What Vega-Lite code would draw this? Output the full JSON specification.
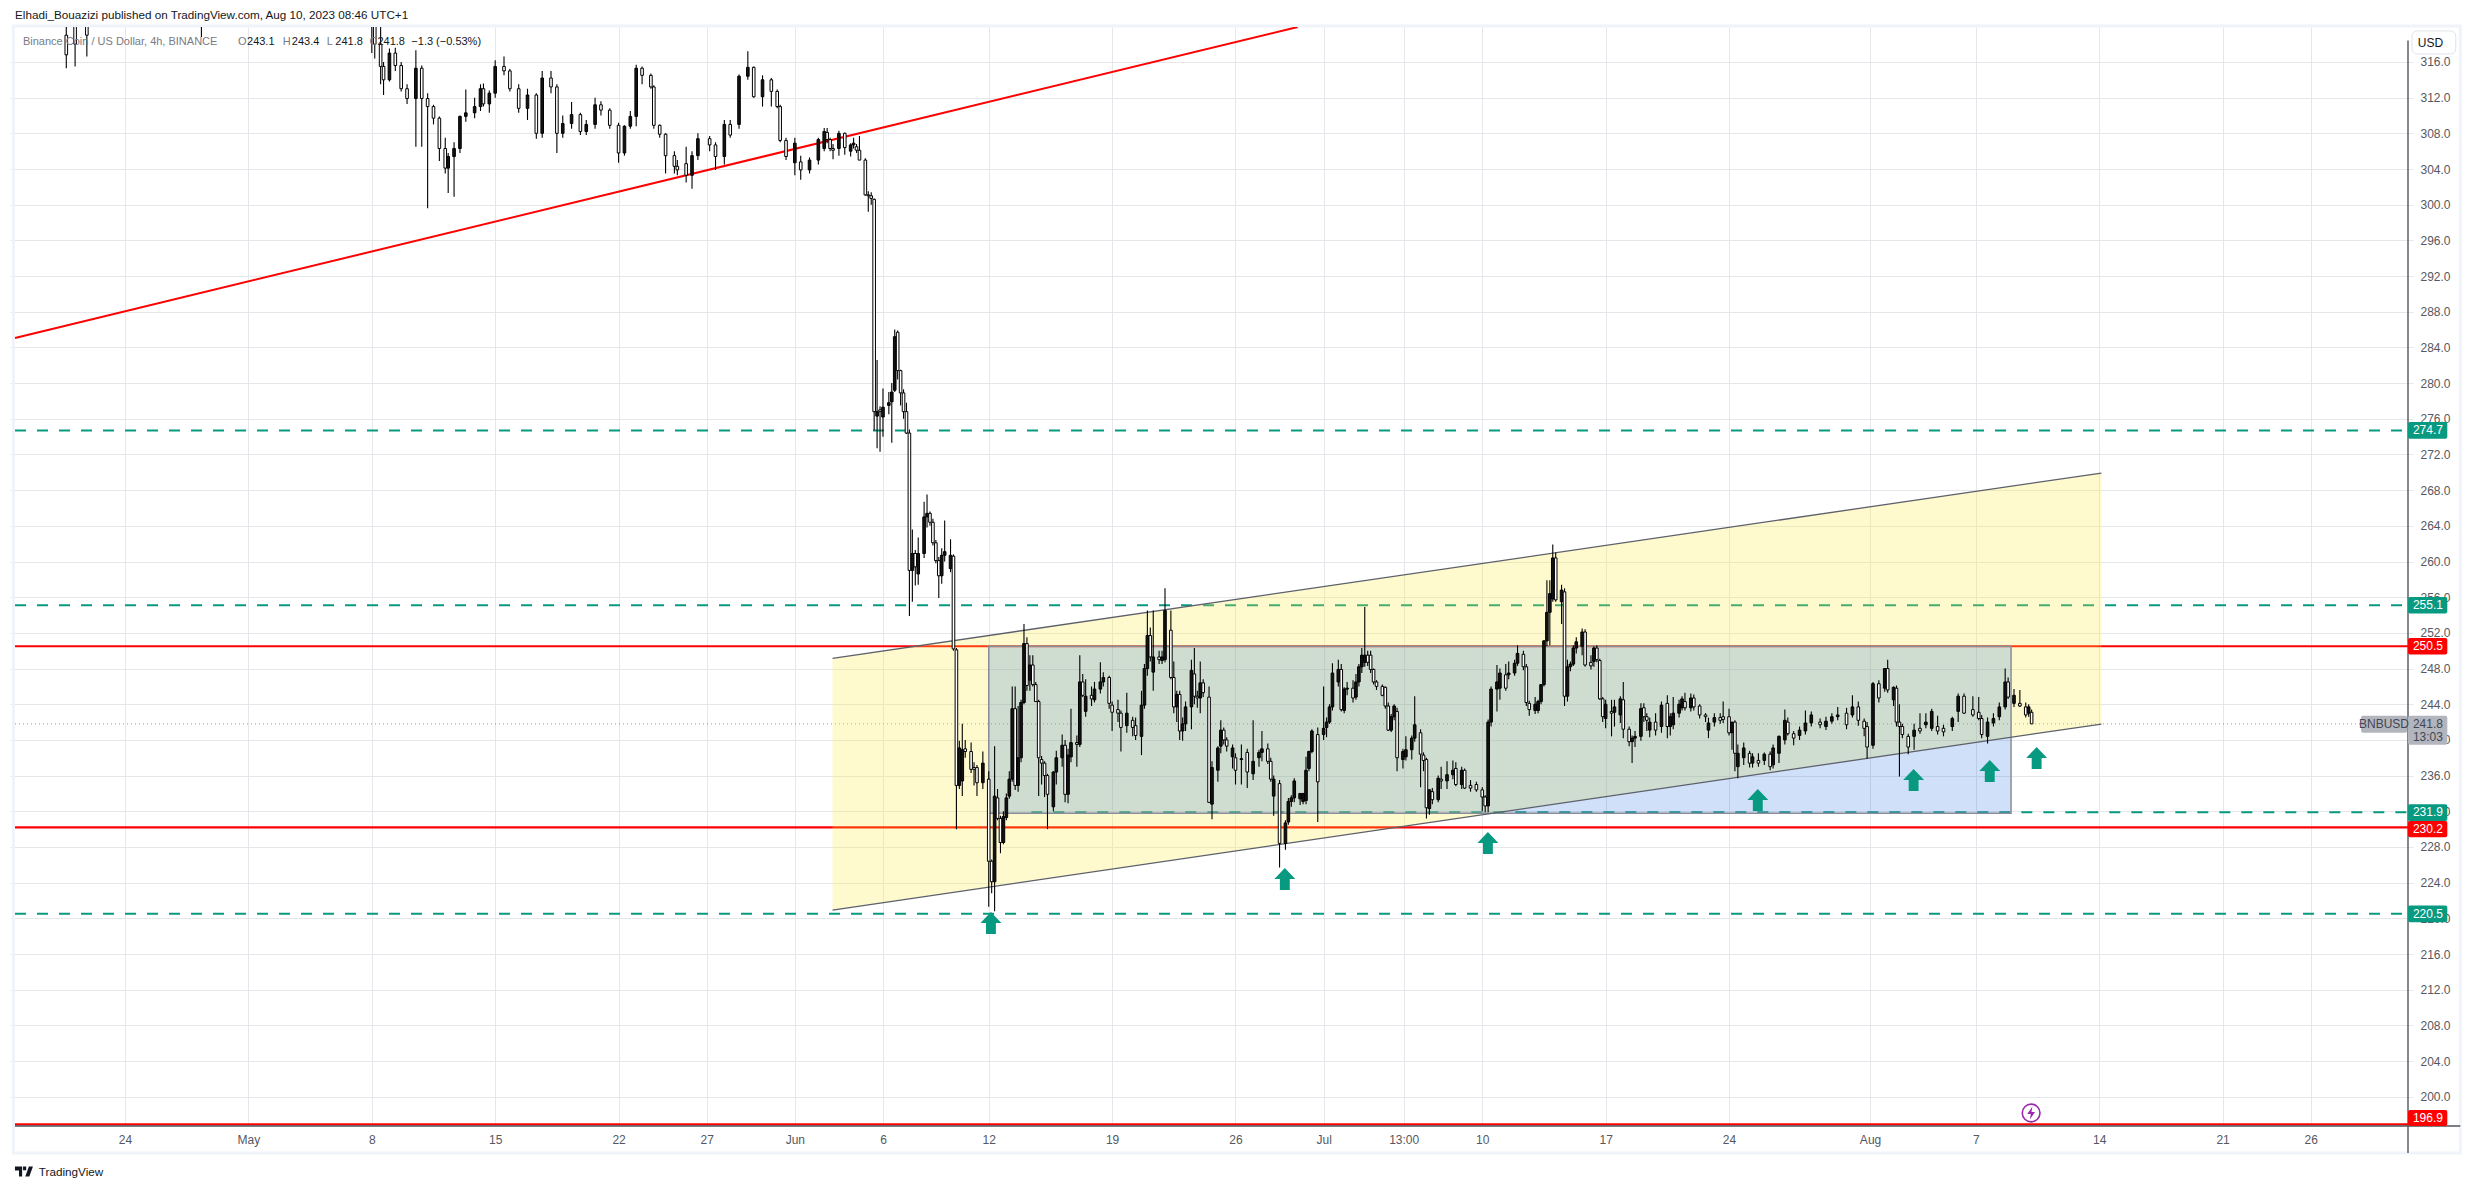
{
"$schema":"https://vega.github.io/schema/vega-lite/v6.json",
"width":2403,"height":1099,
"autosize":{"type":"none"},
"padding":{"left":10,"top":27,"right":62,"bottom":63},
"background":"#ffffff",
"config":{"view":{"stroke":null}},
"encoding":{
 "x":{"field":"t","type":"temporal","title":null,
  "scale":{"type":"utc","domain":[1681755004800,1693484928000]},
  "axis":{"values":[1682294400000,1682899200000,1683504000000,1684108800000,1684713600000,1685145600000,1685577600000,1686009600000,1686528000000,1687132800000,1687737600000,1688169600000,1688562000000,1688947200000,1689552000000,1690156800000,1690848000000,1691366400000,1691971200000,1692576000000,1693008000000],
   "labelExpr":"utchours(datum.value)==13?'13:00':utcdate(datum.value)==1?utcFormat(datum.value,'%b'):utcdate(datum.value)",
   "title":null,"domain":false,"ticks":false,"grid":true,"gridColor":"#e6e7ea","gridWidth":1,"labelFont":"Liberation Sans","labelFontSize":12,"labelColor":"#555861","labelPadding":8,"labelFlush":false,"labelOverlap":false}},
 "y":{"field":"p","type":"quantitative","title":null,
  "scale":{"domain":[196.72,319.92],"nice":false,"zero":false},
  "axis":{"orient":"right","values":[200,204,208,212,216,220,224,228,232,236,240,244,248,252,256,260,264,268,272,276,280,284,288,292,296,300,304,308,312,316],"format":".1f",
   "title":null,"domain":false,"ticks":false,"grid":true,"gridColor":"#e6e7ea","gridWidth":1,"labelFont":"Liberation Sans","labelFontSize":12,"labelColor":"#555861","labelPadding":7,"labelAlign":"left","labelOverlap":false}}
},
"layer":[
{"data":{"values":[{"t":"2023-04-17T16:00Z","t2":"2023-09-03T11:40Z","p":320.04,"p2":193.69}],"format":{"parse":{"t":"date","t2":"date"}}},
 "mark":{"type":"rect","fillOpacity":0,"stroke":"#f0f3fa","strokeWidth":3},
 "encoding":{"x2":{"field":"t2"},"y2":{"field":"p2"}}},

{"data":{"values":[{"t":"2023-04-17T18:10Z","p":285.06},{"t":"2023-06-29T12:43Z","p":319.92}]},
 "mark":{"type":"line","color":"#ff0000","strokeWidth":2,"clip":true}},

{"data":{"values":[{"t":"2023-04-17T18:10Z","t2":"2023-08-31T12:29Z","p":250.5},{"t":"2023-04-17T18:10Z","t2":"2023-08-31T12:29Z","p":230.2},{"t":"2023-04-17T18:10Z","t2":"2023-08-31T12:29Z","p":196.9}],"format":{"parse":{"t":"date","t2":"date"}}},
 "mark":{"type":"rule","color":"#ff0000","strokeWidth":2.2},
 "encoding":{"x2":{"field":"t2"}}},

{"data":{"values":[{"t":"2023-04-17T18:10Z","t2":"2023-08-31T12:29Z","p":274.7},{"t":"2023-04-17T18:10Z","t2":"2023-08-31T12:29Z","p":255.1},{"t":"2023-04-17T18:10Z","t2":"2023-08-31T12:29Z","p":220.5},{"t":"2023-06-14T10:00Z","t2":"2023-08-31T12:29Z","p":231.9}],"format":{"parse":{"t":"date","t2":"date"}}},
 "mark":{"type":"rule","color":"#089981","strokeWidth":2,"strokeDash":[11,11]},
 "encoding":{"x2":{"field":"t2"}}},

{"data":{"values":[{"t":"2023-04-17T18:10Z","t2":"2023-08-31T12:29Z","p":241.8}],"format":{"parse":{"t":"date","t2":"date"}}},
 "mark":{"type":"rule","color":"#9598a1","strokeWidth":1,"strokeDash":[1,3]},
 "encoding":{"x2":{"field":"t2"}}},

{"data":{"values":[{"t":"2023-06-03T03:20Z","p":249.15,"p2":220.93},{"t":"2023-08-14T03:00Z","p":269.92,"p2":241.78}]},
 "mark":{"type":"area","color":"#ffeb3b","opacity":0.25},
 "encoding":{"y2":{"field":"p2"}}},

{"data":{"values":[{"t":"2023-06-12T00:00Z","t2":"2023-08-09T00:00Z","p":250.5,"p2":231.78}],"format":{"parse":{"t":"date","t2":"date"}}},
 "mark":{"type":"rect","fill":"#0f64dc","fillOpacity":0.2,"stroke":"#8a8e98","strokeWidth":1.5},
 "encoding":{"x2":{"field":"t2"},"y2":{"field":"p2"}}},

{"data":{"values":[{"t":"2023-06-03T03:20Z","p":249.15,"edge":"upper"},{"t":"2023-08-14T03:00Z","p":269.92,"edge":"upper"},{"t":"2023-06-03T03:20Z","p":220.93,"edge":"lower"},{"t":"2023-08-14T03:00Z","p":241.78,"edge":"lower"}]},
 "mark":{"type":"line","color":"#5d606b","strokeWidth":1.3},
 "encoding":{"detail":{"field":"edge"}}},

{"data":{"name":"candles","values":[
{"t":"2023-04-20T16:00Z","o":319,"h":320.5,"l":315.3,"c":316.8},
{"t":"2023-04-21T04:00Z","o":320,"h":321,"l":315.5,"c":318},
{"t":"2023-04-21T20:00Z","o":320.5,"h":321,"l":316.6,"c":319},
{"t":"2023-04-28T08:00Z","o":322,"h":323,"l":318.8,"c":321},
{"t":"2023-05-08T00:00Z","o":322,"h":324,"l":317,"c":320},
{"t":"2023-05-08T04:00Z","o":321,"h":322,"l":316.4,"c":318},
{"t":"2023-05-08T12:00Z","o":318,"h":320,"l":313.5,"c":315.5},
{"t":"2023-05-08T16:00Z","o":315.5,"h":316,"l":312.3,"c":314},
{"t":"2023-05-09T00:00Z","o":314,"h":317.5,"l":313.8,"c":317},
{"t":"2023-05-09T08:00Z","o":317,"h":317.6,"l":315,"c":315.6},
{"t":"2023-05-09T16:00Z","o":315.6,"h":316,"l":312.7,"c":313},
{"t":"2023-05-10T00:00Z","o":313,"h":313.5,"l":311.3,"c":311.9},
{"t":"2023-05-10T12:00Z","o":311.9,"h":317.3,"l":306.5,"c":315.3},
{"t":"2023-05-10T20:00Z","o":315.3,"h":315.6,"l":306.5,"c":311.9},
{"t":"2023-05-11T04:00Z","o":311.9,"h":312.5,"l":299.6,"c":311},
{"t":"2023-05-11T12:00Z","o":311,"h":311.2,"l":309,"c":309.7},
{"t":"2023-05-11T20:00Z","o":309.7,"h":309.9,"l":304.9,"c":306.3},
{"t":"2023-05-12T04:00Z","o":306.3,"h":307.5,"l":303.5,"c":304.1},
{"t":"2023-05-12T08:00Z","o":304.1,"h":305.8,"l":301.3,"c":305.4},
{"t":"2023-05-12T16:00Z","o":305.4,"h":307,"l":300.9,"c":306.3},
{"t":"2023-05-13T00:00Z","o":306.3,"h":310,"l":305.8,"c":309.9},
{"t":"2023-05-13T08:00Z","o":309.9,"h":312.9,"l":309.3,"c":310.3},
{"t":"2023-05-13T20:00Z","o":310.3,"h":312,"l":309.7,"c":311},
{"t":"2023-05-14T04:00Z","o":311,"h":313.5,"l":310.5,"c":313},
{"t":"2023-05-14T08:00Z","o":313,"h":313.6,"l":311,"c":311.3},
{"t":"2023-05-14T16:00Z","o":311.3,"h":312.8,"l":310.3,"c":312.5},
{"t":"2023-05-15T00:00Z","o":312.5,"h":316.2,"l":312,"c":315.5},
{"t":"2023-05-15T12:00Z","o":315.5,"h":316.6,"l":314.5,"c":315},
{"t":"2023-05-15T20:00Z","o":315,"h":315.2,"l":312.7,"c":313},
{"t":"2023-05-16T08:00Z","o":313,"h":313.5,"l":310.3,"c":310.8},
{"t":"2023-05-16T20:00Z","o":310.8,"h":313,"l":309.5,"c":312.3},
{"t":"2023-05-17T08:00Z","o":312.3,"h":312.5,"l":307.4,"c":308},
{"t":"2023-05-17T16:00Z","o":308,"h":315,"l":307.5,"c":314.2},
{"t":"2023-05-18T04:00Z","o":314.2,"h":315,"l":312.5,"c":313.2},
{"t":"2023-05-18T12:00Z","o":313.2,"h":313.5,"l":305.8,"c":308},
{"t":"2023-05-18T20:00Z","o":308,"h":310,"l":307.5,"c":309.1},
{"t":"2023-05-19T08:00Z","o":309.1,"h":311.5,"l":308.5,"c":310.1},
{"t":"2023-05-19T20:00Z","o":310.1,"h":310.3,"l":307.8,"c":308.2},
{"t":"2023-05-20T04:00Z","o":308.2,"h":309.5,"l":307.8,"c":309},
{"t":"2023-05-20T16:00Z","o":309,"h":312,"l":308.5,"c":311.2},
{"t":"2023-05-21T00:00Z","o":311.2,"h":311.6,"l":310,"c":310.6},
{"t":"2023-05-21T12:00Z","o":310.6,"h":310.8,"l":308.5,"c":308.9},
{"t":"2023-05-22T00:00Z","o":308.9,"h":309.2,"l":304.7,"c":305.8},
{"t":"2023-05-22T08:00Z","o":305.8,"h":308.9,"l":305.5,"c":308.8},
{"t":"2023-05-22T16:00Z","o":308.8,"h":310.5,"l":308.5,"c":309.9},
{"t":"2023-05-23T00:00Z","o":309.9,"h":315.7,"l":308.8,"c":315.3},
{"t":"2023-05-23T08:00Z","o":315.3,"h":315.5,"l":313.5,"c":314.5},
{"t":"2023-05-23T20:00Z","o":314.5,"h":314.7,"l":313,"c":313.2},
{"t":"2023-05-24T00:00Z","o":313.2,"h":313.4,"l":308.5,"c":308.9},
{"t":"2023-05-24T08:00Z","o":308.9,"h":309,"l":307.5,"c":307.9},
{"t":"2023-05-24T16:00Z","o":307.9,"h":308,"l":303.5,"c":305.5},
{"t":"2023-05-25T04:00Z","o":305.5,"h":306,"l":303.5,"c":304.3},
{"t":"2023-05-25T08:00Z","o":304.3,"h":305,"l":303.3,"c":303.9},
{"t":"2023-05-25T20:00Z","o":304.6,"h":306.5,"l":302.5,"c":303.3},
{"t":"2023-05-26T04:00Z","o":303.3,"h":306,"l":301.8,"c":305.5},
{"t":"2023-05-26T12:00Z","o":305.5,"h":308,"l":305,"c":307.4},
{"t":"2023-05-27T04:00Z","o":307.4,"h":307.7,"l":306,"c":306.7},
{"t":"2023-05-27T12:00Z","o":306.7,"h":307,"l":303.9,"c":305.4},
{"t":"2023-05-28T00:00Z","o":305.4,"h":309.5,"l":304.5,"c":309},
{"t":"2023-05-28T08:00Z","o":309,"h":309.5,"l":307.5,"c":307.8},
{"t":"2023-05-28T20:00Z","o":309,"h":314.6,"l":308.5,"c":314.4},
{"t":"2023-05-29T08:00Z","o":314.4,"h":317.2,"l":314,"c":315.4},
{"t":"2023-05-29T16:00Z","o":315.4,"h":315.5,"l":312,"c":312.1},
{"t":"2023-05-30T04:00Z","o":312.1,"h":314.5,"l":311,"c":314},
{"t":"2023-05-30T16:00Z","o":314,"h":314.2,"l":311,"c":312.7},
{"t":"2023-05-31T00:00Z","o":312.7,"h":312.9,"l":310.8,"c":311},
{"t":"2023-05-31T04:00Z","o":311,"h":311.2,"l":307,"c":307.2},
{"t":"2023-05-31T12:00Z","o":307.2,"h":307.5,"l":305,"c":305.4},
{"t":"2023-06-01T00:00Z","o":304.7,"h":307.5,"l":303.3,"c":306.9},
{"t":"2023-06-01T08:00Z","o":304.8,"h":305.5,"l":302.8,"c":303.9},
{"t":"2023-06-01T20:00Z","o":303.9,"h":305.3,"l":303.5,"c":305},
{"t":"2023-06-02T08:00Z","o":305,"h":307.5,"l":304.5,"c":307.3},
{"t":"2023-06-02T16:00Z","o":306.3,"h":308.6,"l":306,"c":308.2},
{"t":"2023-06-02T20:00Z","o":308.1,"h":308.6,"l":306.9,"c":307.3},
{"t":"2023-06-03T00:00Z","o":307.3,"h":307.5,"l":306,"c":306.3},
{"t":"2023-06-03T04:00Z","o":306.3,"h":306.8,"l":305.1,"c":306.1},
{"t":"2023-06-03T12:00Z","o":306.3,"h":308.3,"l":305.5,"c":308},
{"t":"2023-06-03T20:00Z","o":308,"h":308.1,"l":305.6,"c":306.4},
{"t":"2023-06-04T04:00Z","o":306,"h":306.9,"l":305.4,"c":306.7},
{"t":"2023-06-04T08:00Z","o":306.7,"h":307.5,"l":306.3,"c":306.9},
{"t":"2023-06-04T12:00Z","o":306.5,"h":306.8,"l":305.8,"c":306.1},
{"t":"2023-06-04T16:00Z","o":306.1,"h":307.7,"l":305,"c":305},
{"t":"2023-06-05T00:00Z","o":305,"h":305.2,"l":301,"c":301.1},
{"t":"2023-06-05T04:00Z","o":301.1,"h":301.5,"l":299.2,"c":301},
{"t":"2023-06-05T08:00Z","o":301,"h":301.4,"l":300,"c":300.7},
{"t":"2023-06-05T12:00Z","o":300.6,"h":300.7,"l":274.7,"c":276.8},
{"t":"2023-06-05T16:00Z","o":276.3,"h":282.6,"l":272.7,"c":276.8},
{"t":"2023-06-05T20:00Z","o":277,"h":277.4,"l":272.3,"c":276.8},
{"t":"2023-06-06T00:00Z","o":276.2,"h":279.4,"l":274,"c":277.3},
{"t":"2023-06-06T08:00Z","o":277.5,"h":279,"l":276.5,"c":277.8},
{"t":"2023-06-06T12:00Z","o":277.9,"h":280,"l":273.3,"c":279},
{"t":"2023-06-06T16:00Z","o":279.2,"h":286,"l":279,"c":285.2},
{"t":"2023-06-06T20:00Z","o":285.7,"h":285.9,"l":280.4,"c":281.4},
{"t":"2023-06-07T00:00Z","o":281.4,"h":281.5,"l":277.5,"c":278.9},
{"t":"2023-06-07T04:00Z","o":278.9,"h":279.3,"l":276,"c":276.8},
{"t":"2023-06-07T08:00Z","o":276.8,"h":277.8,"l":274.3,"c":274.4},
{"t":"2023-06-07T12:00Z","o":274.4,"h":274.8,"l":253.9,"c":259},
{"t":"2023-06-07T16:00Z","o":259,"h":263.6,"l":255.5,"c":260.9},
{"t":"2023-06-07T20:00Z","o":260.9,"h":261.3,"l":257.3,"c":259.4},
{"t":"2023-06-08T00:00Z","o":258.6,"h":262.7,"l":257.4,"c":260.9},
{"t":"2023-06-08T08:00Z","o":260.9,"h":266.7,"l":260.4,"c":265},
{"t":"2023-06-08T12:00Z","o":265,"h":267.5,"l":263.8,"c":265.4},
{"t":"2023-06-08T16:00Z","o":265.4,"h":265.6,"l":264,"c":264.4},
{"t":"2023-06-08T20:00Z","o":264.4,"h":264.8,"l":261.8,"c":262.1},
{"t":"2023-06-09T00:00Z","o":262.1,"h":262.4,"l":259.8,"c":260.1},
{"t":"2023-06-09T04:00Z","o":260.1,"h":260.5,"l":255.9,"c":258.4},
{"t":"2023-06-09T08:00Z","o":258.4,"h":261.5,"l":257.5,"c":260.7},
{"t":"2023-06-09T12:00Z","o":260.7,"h":264.6,"l":260,"c":261.1},
{"t":"2023-06-09T20:00Z","o":259.2,"h":262.5,"l":258.8,"c":260.7},
{"t":"2023-06-10T00:00Z","o":260.6,"h":260.8,"l":250,"c":250.2},
{"t":"2023-06-10T04:00Z","o":250.1,"h":250.3,"l":230,"c":234.9},
{"t":"2023-06-10T08:00Z","o":234.9,"h":239.9,"l":234.5,"c":239.1},
{"t":"2023-06-10T12:00Z","o":235.4,"h":241.8,"l":233.7,"c":238.9},
{"t":"2023-06-10T16:00Z","o":239,"h":240,"l":238,"c":238.7},
{"t":"2023-06-11T00:00Z","o":238.7,"h":239.7,"l":236.3,"c":236.7},
{"t":"2023-06-11T04:00Z","o":236.9,"h":237.5,"l":234.9,"c":236.7},
{"t":"2023-06-11T08:00Z","o":236.9,"h":237.2,"l":233.7,"c":235.2},
{"t":"2023-06-11T16:00Z","o":235.2,"h":238.7,"l":234.5,"c":237.4},
{"t":"2023-06-12T00:00Z","o":235.6,"h":236.5,"l":221.3,"c":226.4},
{"t":"2023-06-12T04:00Z","o":226.4,"h":226.6,"l":222.8,"c":224.1},
{"t":"2023-06-12T08:00Z","o":224.1,"h":239.3,"l":220.8,"c":233.7},
{"t":"2023-06-12T12:00Z","o":233.5,"h":234.5,"l":231,"c":231.2},
{"t":"2023-06-12T16:00Z","o":231.2,"h":231.5,"l":227.3,"c":228.5},
{"t":"2023-06-12T20:00Z","o":228.5,"h":232,"l":228.3,"c":231.4},
{"t":"2023-06-13T00:00Z","o":231.3,"h":234,"l":231,"c":233.5},
{"t":"2023-06-13T04:00Z","o":233.7,"h":236.5,"l":233.4,"c":235.6},
{"t":"2023-06-13T08:00Z","o":235.6,"h":246,"l":235.3,"c":243.5},
{"t":"2023-06-13T12:00Z","o":243.5,"h":246,"l":234.4,"c":234.9},
{"t":"2023-06-13T16:00Z","o":234.9,"h":243.8,"l":234.2,"c":238},
{"t":"2023-06-13T20:00Z","o":238,"h":244.5,"l":237.5,"c":244.2},
{"t":"2023-06-14T00:00Z","o":244.2,"h":253,"l":244,"c":250.8},
{"t":"2023-06-14T04:00Z","o":250.8,"h":251.5,"l":245.5,"c":246.1},
{"t":"2023-06-14T08:00Z","o":246.7,"h":249.5,"l":245.5,"c":248.4},
{"t":"2023-06-14T12:00Z","o":248.4,"h":249.5,"l":246,"c":246.2},
{"t":"2023-06-14T16:00Z","o":246.2,"h":246.5,"l":244.3,"c":244.3},
{"t":"2023-06-14T20:00Z","o":244.3,"h":244.5,"l":233.7,"c":238},
{"t":"2023-06-15T00:00Z","o":237.8,"h":238.2,"l":235,"c":237.4},
{"t":"2023-06-15T04:00Z","o":237.4,"h":237.6,"l":233.6,"c":236},
{"t":"2023-06-15T08:00Z","o":236,"h":236.2,"l":230,"c":233.9},
{"t":"2023-06-15T16:00Z","o":232.5,"h":236.5,"l":232,"c":236.4},
{"t":"2023-06-15T20:00Z","o":236.4,"h":238.8,"l":235,"c":238},
{"t":"2023-06-16T04:00Z","o":238,"h":240.6,"l":237,"c":239.4},
{"t":"2023-06-16T08:00Z","o":239.4,"h":240,"l":233,"c":233.9},
{"t":"2023-06-16T12:00Z","o":233.9,"h":239,"l":232.9,"c":238.3},
{"t":"2023-06-16T16:00Z","o":238.1,"h":243.5,"l":237.5,"c":239.7},
{"t":"2023-06-17T00:00Z","o":239.7,"h":240.5,"l":237,"c":239.5},
{"t":"2023-06-17T04:00Z","o":239.5,"h":249.5,"l":239.2,"c":246.5},
{"t":"2023-06-17T08:00Z","o":246.5,"h":247.4,"l":244.8,"c":245},
{"t":"2023-06-17T12:00Z","o":243.2,"h":246.8,"l":242.6,"c":244.9},
{"t":"2023-06-17T20:00Z","o":245,"h":246,"l":243.8,"c":244.6},
{"t":"2023-06-18T00:00Z","o":244.5,"h":246.5,"l":244.2,"c":245.7},
{"t":"2023-06-18T08:00Z","o":245.7,"h":248.7,"l":245.2,"c":246.5},
{"t":"2023-06-18T12:00Z","o":246.5,"h":247.6,"l":246,"c":247},
{"t":"2023-06-18T20:00Z","o":247,"h":247.2,"l":243.5,"c":244.1},
{"t":"2023-06-19T00:00Z","o":243.9,"h":244.3,"l":241,"c":243.1},
{"t":"2023-06-19T08:00Z","o":243.4,"h":244.5,"l":242,"c":243},
{"t":"2023-06-19T12:00Z","o":243,"h":243.3,"l":238.7,"c":241.4},
{"t":"2023-06-19T20:00Z","o":241.6,"h":245.3,"l":240.8,"c":243},
{"t":"2023-06-20T04:00Z","o":242.2,"h":242.6,"l":240.4,"c":241.4},
{"t":"2023-06-20T08:00Z","o":241.6,"h":242.5,"l":240,"c":240.5},
{"t":"2023-06-20T16:00Z","o":240.4,"h":245.5,"l":238.3,"c":243.9},
{"t":"2023-06-20T20:00Z","o":243.9,"h":248.5,"l":243.5,"c":248},
{"t":"2023-06-21T00:00Z","o":248,"h":254.5,"l":247.2,"c":251.7},
{"t":"2023-06-21T04:00Z","o":251.7,"h":252.6,"l":248.8,"c":249.3},
{"t":"2023-06-21T08:00Z","o":247.6,"h":254.5,"l":245.5,"c":249.3},
{"t":"2023-06-21T16:00Z","o":249.3,"h":250,"l":248.5,"c":249},
{"t":"2023-06-21T20:00Z","o":248.9,"h":250,"l":248.5,"c":249.3},
{"t":"2023-06-22T00:00Z","o":249,"h":257,"l":248.7,"c":254.5},
{"t":"2023-06-22T08:00Z","o":252.3,"h":254.5,"l":246.8,"c":247},
{"t":"2023-06-22T12:00Z","o":247,"h":248.8,"l":243,"c":243.7},
{"t":"2023-06-22T16:00Z","o":243.7,"h":245.5,"l":242,"c":245.1},
{"t":"2023-06-22T20:00Z","o":245.1,"h":245.5,"l":240,"c":241},
{"t":"2023-06-23T00:00Z","o":241,"h":242.5,"l":239.9,"c":241.8},
{"t":"2023-06-23T04:00Z","o":241.8,"h":244.3,"l":241,"c":243.7},
{"t":"2023-06-23T12:00Z","o":243.7,"h":249,"l":241.2,"c":247.8},
{"t":"2023-06-23T16:00Z","o":247.4,"h":250.3,"l":244,"c":244.9},
{"t":"2023-06-23T20:00Z","o":244.9,"h":245.5,"l":243.6,"c":244.7},
{"t":"2023-06-24T00:00Z","o":244.7,"h":248.8,"l":243,"c":246.4},
{"t":"2023-06-24T04:00Z","o":246.4,"h":246.8,"l":244.8,"c":245.3},
{"t":"2023-06-24T12:00Z","o":244.8,"h":246,"l":233,"c":233},
{"t":"2023-06-24T16:00Z","o":232.8,"h":237.6,"l":231.1,"c":236.9},
{"t":"2023-06-25T00:00Z","o":236.6,"h":239.3,"l":235.3,"c":239.1},
{"t":"2023-06-25T04:00Z","o":239.3,"h":242.2,"l":238.5,"c":241.1},
{"t":"2023-06-25T08:00Z","o":241.1,"h":241.4,"l":239.5,"c":240},
{"t":"2023-06-25T12:00Z","o":240,"h":240.3,"l":238.7,"c":239.3},
{"t":"2023-06-25T20:00Z","o":238.1,"h":239.5,"l":236.8,"c":239.1},
{"t":"2023-06-26T00:00Z","o":238,"h":238.5,"l":235,"c":236.6},
{"t":"2023-06-26T08:00Z","o":237.8,"h":239.5,"l":235,"c":237.9},
{"t":"2023-06-26T16:00Z","o":238.6,"h":239,"l":234.6,"c":236.4},
{"t":"2023-06-27T00:00Z","o":236.2,"h":242.2,"l":235.5,"c":237.6},
{"t":"2023-06-27T08:00Z","o":238,"h":238.9,"l":237,"c":238.6},
{"t":"2023-06-27T12:00Z","o":238.6,"h":241,"l":237.6,"c":239},
{"t":"2023-06-27T20:00Z","o":239,"h":239.6,"l":237.3,"c":237.6},
{"t":"2023-06-28T00:00Z","o":237.6,"h":238,"l":235.3,"c":235.6},
{"t":"2023-06-28T04:00Z","o":233.7,"h":236,"l":231.5,"c":235.6},
{"t":"2023-06-28T12:00Z","o":235.1,"h":235.5,"l":225.7,"c":228.4},
{"t":"2023-06-28T20:00Z","o":228.4,"h":231,"l":227.7,"c":230.7},
{"t":"2023-06-29T00:00Z","o":230.8,"h":233.5,"l":230.5,"c":233.1},
{"t":"2023-06-29T04:00Z","o":233.1,"h":233.8,"l":232.5,"c":233.5},
{"t":"2023-06-29T08:00Z","o":233.5,"h":235.7,"l":233,"c":235.4},
{"t":"2023-06-29T16:00Z","o":233.4,"h":234,"l":232.7,"c":234},
{"t":"2023-06-29T20:00Z","o":233.1,"h":234,"l":232.8,"c":234},
{"t":"2023-06-30T00:00Z","o":233.2,"h":238.1,"l":232.8,"c":236.6},
{"t":"2023-06-30T04:00Z","o":236.8,"h":238.8,"l":236.5,"c":238.7},
{"t":"2023-06-30T08:00Z","o":238.7,"h":241.2,"l":238.5,"c":241},
{"t":"2023-06-30T16:00Z","o":240.6,"h":241.4,"l":230.8,"c":235.3},
{"t":"2023-07-01T00:00Z","o":240.6,"h":246,"l":240,"c":241.3},
{"t":"2023-07-01T04:00Z","o":241.4,"h":242.5,"l":240.3,"c":242},
{"t":"2023-07-01T08:00Z","o":242,"h":244,"l":241.8,"c":243.7},
{"t":"2023-07-01T12:00Z","o":243.7,"h":248.6,"l":243.3,"c":247.5},
{"t":"2023-07-01T20:00Z","o":246.5,"h":249,"l":246,"c":247.9},
{"t":"2023-07-02T00:00Z","o":247.9,"h":248.5,"l":243.2,"c":243.4},
{"t":"2023-07-02T04:00Z","o":243.3,"h":245.9,"l":243,"c":245.7},
{"t":"2023-07-02T08:00Z","o":245.7,"h":246.5,"l":245,"c":245.8},
{"t":"2023-07-02T16:00Z","o":245.8,"h":246.7,"l":244.2,"c":244.7},
{"t":"2023-07-02T20:00Z","o":244.8,"h":247.4,"l":244.5,"c":246.5},
{"t":"2023-07-03T00:00Z","o":246.5,"h":248.5,"l":246,"c":248.2},
{"t":"2023-07-03T04:00Z","o":248.2,"h":250.3,"l":247.5,"c":249.5},
{"t":"2023-07-03T08:00Z","o":248.7,"h":254.9,"l":248.2,"c":249.5},
{"t":"2023-07-03T12:00Z","o":249.5,"h":250,"l":248.3,"c":248.7},
{"t":"2023-07-03T16:00Z","o":249.5,"h":250,"l":247.5,"c":247.9},
{"t":"2023-07-03T20:00Z","o":247.9,"h":248,"l":246.2,"c":246.5},
{"t":"2023-07-04T00:00Z","o":246.5,"h":246.7,"l":245.6,"c":246},
{"t":"2023-07-04T08:00Z","o":246,"h":246.2,"l":244.9,"c":245},
{"t":"2023-07-04T12:00Z","o":245.9,"h":246,"l":243.5,"c":243.8},
{"t":"2023-07-04T16:00Z","o":243.8,"h":244.2,"l":241,"c":241.1},
{"t":"2023-07-04T20:00Z","o":241.1,"h":242.9,"l":240.9,"c":242.6},
{"t":"2023-07-05T00:00Z","o":242.6,"h":244,"l":242.2,"c":243.8},
{"t":"2023-07-05T04:00Z","o":243.2,"h":243.6,"l":236.5,"c":238},
{"t":"2023-07-05T12:00Z","o":237.8,"h":239,"l":236.8,"c":238.7},
{"t":"2023-07-05T16:00Z","o":238.1,"h":240.4,"l":237.7,"c":238.9},
{"t":"2023-07-06T00:00Z","o":238.9,"h":240.5,"l":237.8,"c":240.2},
{"t":"2023-07-06T04:00Z","o":240.2,"h":244.9,"l":239.8,"c":241.7},
{"t":"2023-07-06T12:00Z","o":240.8,"h":241.2,"l":234.7,"c":238.4},
{"t":"2023-07-06T16:00Z","o":238.3,"h":238.6,"l":236.5,"c":237.7},
{"t":"2023-07-06T20:00Z","o":237.8,"h":238,"l":231.2,"c":232.4},
{"t":"2023-07-07T00:00Z","o":232.3,"h":234.5,"l":231.6,"c":234.4},
{"t":"2023-07-07T04:00Z","o":234.2,"h":234.6,"l":232.8,"c":233.3},
{"t":"2023-07-07T12:00Z","o":233.3,"h":236,"l":233,"c":235.7},
{"t":"2023-07-07T16:00Z","o":235.6,"h":237,"l":234.5,"c":235.4},
{"t":"2023-07-08T00:00Z","o":235.4,"h":237.6,"l":234.5,"c":236.1},
{"t":"2023-07-08T08:00Z","o":236.1,"h":237.7,"l":235.6,"c":236.6},
{"t":"2023-07-08T12:00Z","o":236.8,"h":237.5,"l":234.8,"c":235},
{"t":"2023-07-08T20:00Z","o":235,"h":237,"l":234.5,"c":236.6},
{"t":"2023-07-09T00:00Z","o":236.6,"h":236.8,"l":234.5,"c":234.6},
{"t":"2023-07-09T08:00Z","o":234.9,"h":235.5,"l":234.2,"c":234.6},
{"t":"2023-07-09T16:00Z","o":235,"h":235.3,"l":234.2,"c":234.4},
{"t":"2023-07-10T00:00Z","o":234.4,"h":234.7,"l":232,"c":233.6},
{"t":"2023-07-10T04:00Z","o":233.6,"h":233.8,"l":231.9,"c":232.6},
{"t":"2023-07-10T08:00Z","o":232.6,"h":242.3,"l":231.9,"c":242},
{"t":"2023-07-10T12:00Z","o":242,"h":246,"l":241.5,"c":245.7},
{"t":"2023-07-10T20:00Z","o":245.7,"h":248.4,"l":243.2,"c":246.5},
{"t":"2023-07-11T00:00Z","o":245.8,"h":248,"l":244.5,"c":247.5},
{"t":"2023-07-11T08:00Z","o":247.3,"h":248.5,"l":245.5,"c":245.8},
{"t":"2023-07-11T12:00Z","o":247.3,"h":248.8,"l":246.8,"c":247.5},
{"t":"2023-07-11T20:00Z","o":247.5,"h":249,"l":247.2,"c":248.6},
{"t":"2023-07-12T00:00Z","o":248.6,"h":250.6,"l":248.3,"c":249.7},
{"t":"2023-07-12T08:00Z","o":249.6,"h":250,"l":247.8,"c":248.2},
{"t":"2023-07-12T12:00Z","o":248.2,"h":248.5,"l":243.8,"c":244.2},
{"t":"2023-07-12T16:00Z","o":244.1,"h":244.4,"l":242.7,"c":243.4},
{"t":"2023-07-13T00:00Z","o":243.3,"h":244.8,"l":242.9,"c":244},
{"t":"2023-07-13T04:00Z","o":243.3,"h":244.5,"l":243,"c":244.3},
{"t":"2023-07-13T08:00Z","o":244.3,"h":246.2,"l":244,"c":246.2},
{"t":"2023-07-13T12:00Z","o":246.2,"h":251.2,"l":246,"c":251.1},
{"t":"2023-07-13T16:00Z","o":251.1,"h":257.9,"l":250.5,"c":254.3},
{"t":"2023-07-13T20:00Z","o":254.3,"h":257.9,"l":250.6,"c":256.4},
{"t":"2023-07-14T00:00Z","o":255.8,"h":261.9,"l":255.5,"c":260.4},
{"t":"2023-07-14T04:00Z","o":260.4,"h":261,"l":255.5,"c":255.7},
{"t":"2023-07-14T12:00Z","o":255.5,"h":257.4,"l":253,"c":256.8},
{"t":"2023-07-14T16:00Z","o":256.6,"h":257,"l":243.8,"c":244.9},
{"t":"2023-07-14T20:00Z","o":244.9,"h":249,"l":244.3,"c":248.2},
{"t":"2023-07-15T00:00Z","o":248.2,"h":248.8,"l":247.7,"c":248.5},
{"t":"2023-07-15T04:00Z","o":248.5,"h":250.6,"l":248.3,"c":250.3},
{"t":"2023-07-15T08:00Z","o":250.3,"h":251.5,"l":249.7,"c":251},
{"t":"2023-07-15T16:00Z","o":250.5,"h":252.5,"l":249.5,"c":252.1},
{"t":"2023-07-15T20:00Z","o":252.1,"h":252.4,"l":248.2,"c":248.4},
{"t":"2023-07-16T04:00Z","o":248.7,"h":249.5,"l":247.9,"c":248.3},
{"t":"2023-07-16T08:00Z","o":248.8,"h":250.5,"l":248.2,"c":250.3},
{"t":"2023-07-16T12:00Z","o":250.3,"h":250.6,"l":248.7,"c":249},
{"t":"2023-07-16T16:00Z","o":248.9,"h":249.1,"l":244.5,"c":244.6},
{"t":"2023-07-16T20:00Z","o":244.6,"h":244.8,"l":242,"c":242.6},
{"t":"2023-07-17T00:00Z","o":242.4,"h":244.5,"l":241.3,"c":244},
{"t":"2023-07-17T08:00Z","o":243.2,"h":244.5,"l":240.4,"c":243},
{"t":"2023-07-17T12:00Z","o":243.1,"h":244.5,"l":241.5,"c":243.7},
{"t":"2023-07-17T20:00Z","o":242.8,"h":244.9,"l":241.9,"c":244.6},
{"t":"2023-07-18T00:00Z","o":244.5,"h":246.5,"l":240.2,"c":241.2},
{"t":"2023-07-18T08:00Z","o":241.2,"h":241.5,"l":239.3,"c":239.8},
{"t":"2023-07-18T12:00Z","o":239.8,"h":240.5,"l":237.4,"c":240.2},
{"t":"2023-07-18T16:00Z","o":240.2,"h":241,"l":239.2,"c":240.4},
{"t":"2023-07-19T00:00Z","o":240.4,"h":244.1,"l":239.9,"c":243.5},
{"t":"2023-07-19T04:00Z","o":243.6,"h":244.1,"l":242,"c":242.6},
{"t":"2023-07-19T08:00Z","o":242.6,"h":243,"l":241,"c":242.2},
{"t":"2023-07-19T12:00Z","o":241.1,"h":242.5,"l":240.3,"c":242},
{"t":"2023-07-19T20:00Z","o":242,"h":243,"l":240.5,"c":241.1},
{"t":"2023-07-20T04:00Z","o":241.5,"h":244.3,"l":240.8,"c":243.9},
{"t":"2023-07-20T12:00Z","o":244.1,"h":245,"l":240.2,"c":241.5},
{"t":"2023-07-20T16:00Z","o":241.5,"h":243,"l":240.5,"c":242.6},
{"t":"2023-07-20T20:00Z","o":241.7,"h":244.8,"l":241.2,"c":243},
{"t":"2023-07-21T04:00Z","o":243,"h":244.5,"l":242.5,"c":244},
{"t":"2023-07-21T08:00Z","o":243.6,"h":244.9,"l":243.3,"c":244.6},
{"t":"2023-07-21T12:00Z","o":244.3,"h":245.3,"l":243.3,"c":243.6},
{"t":"2023-07-21T20:00Z","o":243.6,"h":245.2,"l":243.2,"c":244.7},
{"t":"2023-07-22T00:00Z","o":244.7,"h":245.1,"l":243.3,"c":243.7},
{"t":"2023-07-22T08:00Z","o":243.8,"h":244,"l":242.4,"c":242.8},
{"t":"2023-07-22T16:00Z","o":242.8,"h":243,"l":242,"c":242.6},
{"t":"2023-07-22T20:00Z","o":241.1,"h":242.5,"l":240.2,"c":241.9},
{"t":"2023-07-23T04:00Z","o":242,"h":243,"l":241.5,"c":242.5},
{"t":"2023-07-23T12:00Z","o":242.5,"h":243,"l":241.8,"c":242.2},
{"t":"2023-07-23T16:00Z","o":242.6,"h":244.3,"l":241.9,"c":242.3},
{"t":"2023-07-24T00:00Z","o":242.6,"h":243.5,"l":240.5,"c":240.8},
{"t":"2023-07-24T04:00Z","o":240.8,"h":242,"l":238.9,"c":242},
{"t":"2023-07-24T08:00Z","o":242,"h":242.2,"l":236.5,"c":238.5},
{"t":"2023-07-24T12:00Z","o":237,"h":239.5,"l":235.7,"c":238.5},
{"t":"2023-07-24T20:00Z","o":238,"h":239.7,"l":237.2,"c":239.1},
{"t":"2023-07-25T04:00Z","o":238.5,"h":238.8,"l":236.9,"c":237.4},
{"t":"2023-07-25T08:00Z","o":237.4,"h":238.5,"l":236.9,"c":238.1},
{"t":"2023-07-25T16:00Z","o":237.7,"h":238.5,"l":237,"c":237.4},
{"t":"2023-07-26T00:00Z","o":237.7,"h":238.6,"l":237.2,"c":238.4},
{"t":"2023-07-26T08:00Z","o":238.4,"h":238.7,"l":236.6,"c":237},
{"t":"2023-07-26T12:00Z","o":237.2,"h":239.5,"l":236.8,"c":239.1},
{"t":"2023-07-26T20:00Z","o":238.5,"h":240.5,"l":237.4,"c":240.4},
{"t":"2023-07-27T04:00Z","o":240,"h":243.4,"l":239.5,"c":242.2},
{"t":"2023-07-27T08:00Z","o":242,"h":242.5,"l":240.5,"c":240.7},
{"t":"2023-07-27T16:00Z","o":240.7,"h":241,"l":239.4,"c":240.2},
{"t":"2023-07-28T00:00Z","o":240.5,"h":241.5,"l":240,"c":241.1},
{"t":"2023-07-28T08:00Z","o":241,"h":243.3,"l":240.6,"c":241.9},
{"t":"2023-07-28T16:00Z","o":241.9,"h":243.2,"l":241.5,"c":242.8},
{"t":"2023-07-29T04:00Z","o":242,"h":242.4,"l":241.3,"c":241.7},
{"t":"2023-07-29T12:00Z","o":241.5,"h":242.6,"l":241.1,"c":242.1},
{"t":"2023-07-29T20:00Z","o":242.1,"h":243,"l":241.8,"c":242.6},
{"t":"2023-07-30T04:00Z","o":242.6,"h":243.7,"l":242.2,"c":242.8},
{"t":"2023-07-30T16:00Z","o":243,"h":243.6,"l":241.2,"c":241.7},
{"t":"2023-07-31T00:00Z","o":242.8,"h":245,"l":242.5,"c":243.7},
{"t":"2023-07-31T08:00Z","o":243.7,"h":244.3,"l":241.6,"c":242.2},
{"t":"2023-07-31T16:00Z","o":242.1,"h":242.4,"l":240.4,"c":241.3},
{"t":"2023-07-31T20:00Z","o":241.5,"h":242,"l":237.9,"c":239.2},
{"t":"2023-08-01T04:00Z","o":239.4,"h":246.5,"l":239,"c":246.3},
{"t":"2023-08-01T12:00Z","o":246.3,"h":246.7,"l":244.2,"c":244.7},
{"t":"2023-08-01T20:00Z","o":245.8,"h":248,"l":245.4,"c":248},
{"t":"2023-08-02T00:00Z","o":248,"h":249,"l":245.3,"c":245.6},
{"t":"2023-08-02T08:00Z","o":244.5,"h":246,"l":243.8,"c":245.9},
{"t":"2023-08-02T12:00Z","o":245.8,"h":246.1,"l":241.5,"c":242},
{"t":"2023-08-02T16:00Z","o":242,"h":244,"l":235.9,"c":241.5},
{"t":"2023-08-02T20:00Z","o":241.5,"h":241.8,"l":240.2,"c":240.6},
{"t":"2023-08-03T04:00Z","o":240.4,"h":240.7,"l":238.4,"c":239.2},
{"t":"2023-08-03T12:00Z","o":240.4,"h":241.8,"l":238.9,"c":241.1},
{"t":"2023-08-03T20:00Z","o":241.3,"h":243,"l":240.7,"c":241},
{"t":"2023-08-04T04:00Z","o":241.7,"h":243,"l":241.3,"c":242},
{"t":"2023-08-04T12:00Z","o":241.3,"h":243.5,"l":241,"c":243.2},
{"t":"2023-08-04T20:00Z","o":241.5,"h":242.7,"l":240.6,"c":241},
{"t":"2023-08-05T04:00Z","o":241.3,"h":241.7,"l":240.4,"c":240.9},
{"t":"2023-08-05T16:00Z","o":241.5,"h":242.6,"l":241,"c":242.4},
{"t":"2023-08-06T00:00Z","o":243.2,"h":245.2,"l":242,"c":244.9},
{"t":"2023-08-06T08:00Z","o":244.9,"h":245.2,"l":242.9,"c":243},
{"t":"2023-08-06T20:00Z","o":243.4,"h":244.9,"l":242.6,"c":242.8},
{"t":"2023-08-07T04:00Z","o":243.1,"h":244.8,"l":242.2,"c":242.4},
{"t":"2023-08-07T08:00Z","o":242.4,"h":242.8,"l":240.2,"c":240.6},
{"t":"2023-08-07T16:00Z","o":240.4,"h":242.5,"l":239.6,"c":242},
{"t":"2023-08-08T00:00Z","o":241.9,"h":243,"l":241.5,"c":242.4},
{"t":"2023-08-08T08:00Z","o":242.6,"h":244.2,"l":242.2,"c":243.7},
{"t":"2023-08-08T16:00Z","o":243.7,"h":248,"l":243.4,"c":246.5},
{"t":"2023-08-08T20:00Z","o":246.5,"h":247,"l":244.6,"c":244.8},
{"t":"2023-08-09T04:00Z","o":244.1,"h":245.7,"l":243.7,"c":245},
{"t":"2023-08-09T12:00Z","o":244.1,"h":245.6,"l":243.7,"c":243.8},
{"t":"2023-08-09T20:00Z","o":243.7,"h":244.2,"l":242.5,"c":242.8},
{"t":"2023-08-10T00:00Z","o":243,"h":244,"l":242.6,"c":243.7},
{"t":"2023-08-10T04:00Z","o":243.1,"h":243.4,"l":241.8,"c":241.8}
]},
 "mark":{"type":"rule","color":"#000000","strokeWidth":1.1,"clip":true},
 "encoding":{"y":{"field":"h","type":"quantitative","title":null},"y2":{"field":"l"}}},

{"data":{"name":"candles"},
 "mark":{"type":"bar","width":2.6,"stroke":"#000000","strokeWidth":1,"clip":true},
 "encoding":{"y":{"field":"o","type":"quantitative","title":null},"y2":{"field":"c"},
  "fill":{"condition":{"test":"datum.c>datum.o","value":"#131313"},"value":"#ffffff"}}},

{"data":{"values":[{"t":"2023-06-12T03:00Z","p":219.48},{"t":"2023-06-28T19:10Z","p":224.41},{"t":"2023-07-10T07:40Z","p":228.44},{"t":"2023-07-25T15:10Z","p":233.26},{"t":"2023-08-03T11:20Z","p":235.51},{"t":"2023-08-07T19:00Z","p":236.52},{"t":"2023-08-10T10:50Z","p":237.97}]},
 "mark":{"type":"point","filled":true,"opacity":1,"color":"#089981","size":484,"shape":"M0,-1 L0.95,0 L0.45,0 L0.45,1 L-0.45,1 L-0.45,0 L-0.95,0 Z"}},

{"data":{"values":[{"t":"2023-08-10T03:20Z","p":198.18}]},
 "mark":{"type":"point","shape":"circle","size":314,"filled":false,"fill":"#ffffff","fillOpacity":1,"stroke":"#9c27b0","strokeWidth":1.6,"opacity":1}},
{"data":{"values":[{"t":"2023-08-10T03:20Z","p":198.18}]},
 "mark":{"type":"point","filled":true,"opacity":1,"color":"#9c27b0","size":170,"shape":"M0.2,-1 L-0.6,0.15 L-0.05,0.15 L-0.2,1 L0.6,-0.15 L0.05,-0.15 Z"}},

{"data":{"values":[{"t":"2023-08-31T12:29Z","t2":"2023-08-31T12:29Z","p":318.41,"p2":193.69},{"t":"2023-04-17T18:10Z","t2":"2023-09-03T11:40Z","p":196.72,"p2":196.72}],"format":{"parse":{"t":"date","t2":"date"}}},
 "mark":{"type":"rule","color":"#50535e","strokeWidth":1.4},
 "encoding":{"x2":{"field":"t2"},"y2":{"field":"p2"}}},

{"data":{"values":[
 {"t":"2023-08-31T12:29Z","t2":"2023-09-02T18:00Z","p":275.63,"p2":273.77,"tone":"green"},
 {"t":"2023-08-31T12:29Z","t2":"2023-09-02T18:00Z","p":256.03,"p2":254.17,"tone":"green"},
 {"t":"2023-08-31T12:29Z","t2":"2023-09-02T18:00Z","p":251.43,"p2":249.57,"tone":"red"},
 {"t":"2023-08-31T12:29Z","t2":"2023-09-02T18:00Z","p":232.8,"p2":230.9,"tone":"green"},
 {"t":"2023-08-31T12:29Z","t2":"2023-09-02T18:00Z","p":230.9,"p2":229.1,"tone":"red"},
 {"t":"2023-08-31T12:29Z","t2":"2023-09-02T18:00Z","p":221.43,"p2":219.57,"tone":"green"},
 {"t":"2023-08-31T12:29Z","t2":"2023-09-02T18:00Z","p":198.5,"p2":196.72,"tone":"red"},
 {"t":"2023-08-31T12:29Z","t2":"2023-09-02T18:00Z","p":242.7,"p2":239.45,"tone":"gray"},
 {"t":"2023-08-28T20:40Z","t2":"2023-08-31T11:15Z","p":242.7,"p2":240.8,"tone":"gray"}
 ],"format":{"parse":{"t":"date","t2":"date"}}},
 "mark":{"type":"rect","cornerRadius":2},
 "encoding":{"x2":{"field":"t2"},"y2":{"field":"p2"},
  "fill":{"field":"tone","type":"nominal","legend":null,"scale":{"domain":["green","red","gray"],"range":["#089981","#ff0000","#b2b5be"]}}}},

{"data":{"values":[{"t":"2023-08-31T18:00Z","t2":"2023-09-03T05:30Z","p":319.48,"p2":316.9}],"format":{"parse":{"t":"date","t2":"date"}}},
 "mark":{"type":"rect","fill":"#ffffff","stroke":"#e0e3eb","strokeWidth":1,"cornerRadius":5},
 "encoding":{"x2":{"field":"t2"},"y2":{"field":"p2"}}},

{"data":{"values":[
 {"t":"2023-09-01T15:36Z","p":274.7,"label":"274.7","tone":"white"},
 {"t":"2023-09-01T15:36Z","p":255.1,"label":"255.1","tone":"white"},
 {"t":"2023-09-01T15:36Z","p":250.5,"label":"250.5","tone":"white"},
 {"t":"2023-09-01T15:36Z","p":231.9,"label":"231.9","tone":"white"},
 {"t":"2023-09-01T15:36Z","p":230.0,"label":"230.2","tone":"white"},
 {"t":"2023-09-01T15:36Z","p":220.5,"label":"220.5","tone":"white"},
 {"t":"2023-09-01T15:36Z","p":197.6,"label":"196.9","tone":"white"},
 {"t":"2023-09-01T15:36Z","p":241.8,"label":"241.8","tone":"slate"},
 {"t":"2023-09-01T15:36Z","p":240.35,"label":"13:03","tone":"slate"},
 {"t":"2023-08-30T03:50Z","p":241.8,"label":"BNBUSD","tone":"slate"},
 {"t":"2023-09-01T19:00Z","p":318.13,"label":"USD","tone":"ink"}
 ]},
 "mark":{"type":"text","align":"center","baseline":"middle","font":"Liberation Sans","fontSize":12},
 "encoding":{"text":{"field":"label"},"color":{"field":"tone","type":"nominal","legend":null,"scale":{"domain":["white","slate","ink","muted"],"range":["#ffffff","#434651","#131722","#787b86"]}}}},

{"data":{"values":[
 {"t":"2023-04-17T18:10Z","p":321.27,"label":"Elhadi_Bouazizi published on TradingView.com, Aug 10, 2023 08:46 UTC+1","tone":"ink"},
 {"t":"2023-04-19T02:40Z","p":191.56,"label":"TradingView","tone":"ink"}
 ]},
 "mark":{"type":"text","align":"left","baseline":"middle","font":"Liberation Sans","fontSize":11.7},
 "encoding":{"text":{"field":"label"},"color":{"field":"tone","type":"nominal","legend":null,"scale":{"domain":["white","slate","ink","muted"],"range":["#ffffff","#434651","#131722","#787b86"]}}}},

{"data":{"values":[
 {"t":"2023-04-18T05:00Z","p":318.24,"label":"Binance Coin / US Dollar, 4h, BINANCE","tone":"muted"},
 {"t":"2023-04-30T09:50Z","p":318.24,"label":"O","tone":"muted"},
 {"t":"2023-04-30T22:05Z","p":318.24,"label":"243.1","tone":"ink"},
 {"t":"2023-05-02T22:50Z","p":318.24,"label":"H","tone":"muted"},
 {"t":"2023-05-03T11:05Z","p":318.24,"label":"243.4","tone":"ink"},
 {"t":"2023-05-05T10:35Z","p":318.24,"label":"L","tone":"muted"},
 {"t":"2023-05-05T22:20Z","p":318.24,"label":"241.8","tone":"ink"},
 {"t":"2023-05-07T20:50Z","p":318.24,"label":"C","tone":"muted"},
 {"t":"2023-05-08T07:40Z","p":318.24,"label":"241.8","tone":"ink"},
 {"t":"2023-05-10T05:50Z","p":318.24,"label":"−1.3 (−0.53%)","tone":"ink"}
 ]},
 "mark":{"type":"text","align":"left","baseline":"middle","font":"Liberation Sans","fontSize":11},
 "encoding":{"text":{"field":"label"},"color":{"field":"tone","type":"nominal","legend":null,"scale":{"domain":["white","slate","ink","muted"],"range":["#ffffff","#434651","#131722","#787b86"]}}}},

{"data":{"values":[{"t":"2023-04-18T06:20Z","p":191.62}]},
 "mark":{"type":"point","filled":true,"opacity":1,"color":"#131722","size":324,"shape":"M-1,-0.55 L-0.2,-0.55 L-0.2,0.55 L-0.55,0.55 L-0.55,-0.1 L-1,-0.1 Z M0.55,-0.55 L1,-0.55 L0.6,0.55 L0.15,0.55 Z M-0.1,-0.55 L0.25,-0.55 L0.25,-0.15 L-0.1,-0.15 Z"}}
]
}
